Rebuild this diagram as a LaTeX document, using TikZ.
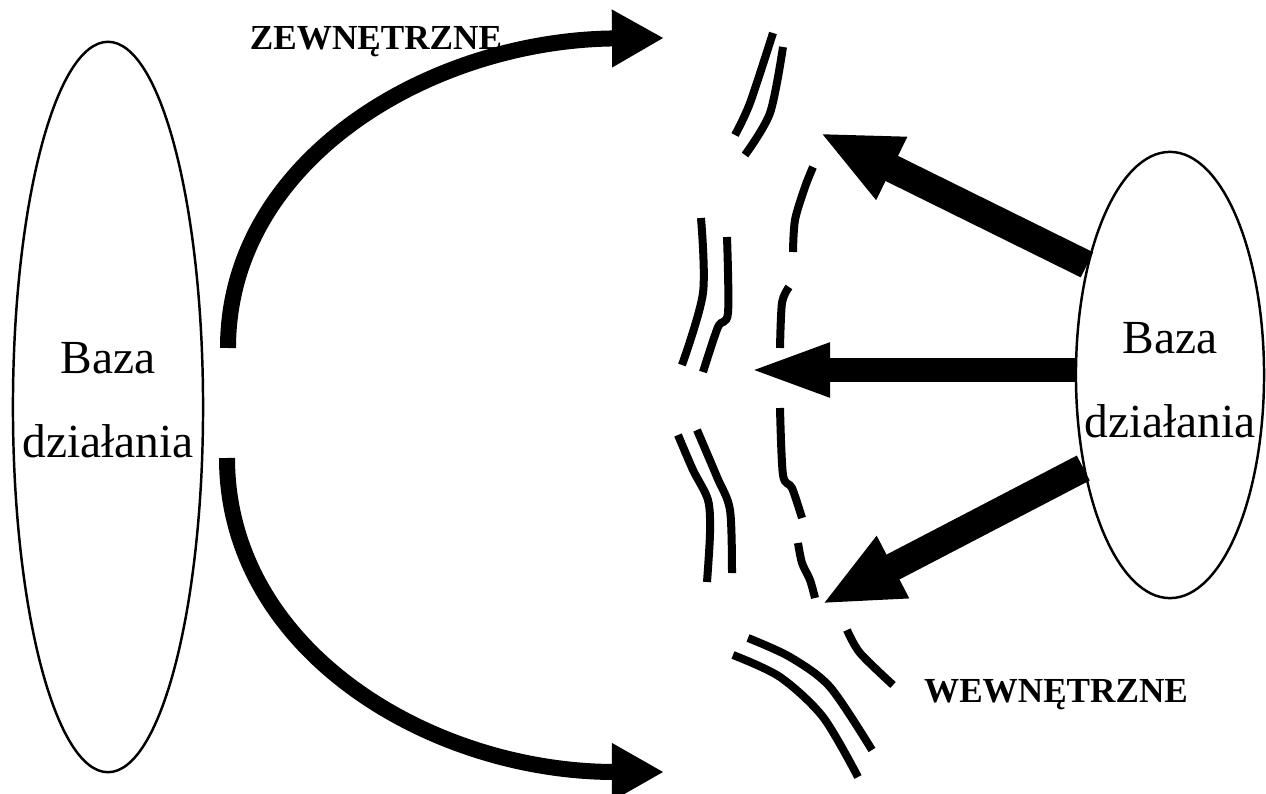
\documentclass[tikz,border=0pt]{standalone}
\usepackage{fontspec}
\setmainfont{Liberation Serif}
\usetikzlibrary{arrows.meta,shapes.geometric}

\tikzset{
  basenode/.style={ellipse, draw, line width=0.7pt, align=center, inner sep=0pt,
    font=\fontsize{13.5}{23.9}\selectfont},
  sidelabel/.style={font=\fontsize{10}{12}\selectfont\bfseries, anchor=base},
  thrust/.style={line width=0.16cm, -{Triangle[length=0.52cm,width=0.54cm]}},
  push/.style={line width=0.28cm, -{Triangle[length=0.8cm,width=0.64cm]}},
  barrier/.style={line width=0.08cm},
}
% #1 extra height on top line, #2 extra depth on bottom line
\newcommand{\basetext}[2]{\rule{0pt}{#1}\makebox[0pt]{Baza}\\
  \makebox[0pt]{działania}\rule[-#2]{0pt}{#2}}

\begin{document}
\begin{tikzpicture}[x=0.01cm, y=-0.01cm]
\useasboundingbox (0,0) rectangle (1266,794);

%% ── Bases ─────────────────────────────────────────────────────────────────────
\node[basenode, minimum width=1.9cm, minimum height=7.3cm] (baseL) at (108,407)
  {\basetext{0pt}{0.14cm}};
\node[basenode, minimum width=1.88cm, minimum height=4.46cm] (baseR) at (1170,375)
  {\basetext{0.41cm}{0pt}};

%% ── Labels ────────────────────────────────────────────────────────────────────
\node[sidelabel] (extLab) at (376,50)  {ZEWNĘTRZNE};
\node[sidelabel] (intLab) at (1056,702) {WEWNĘTRZNE};

%% ── Free ends (hardcoded, px) ─────────────────────────────────────────────────
\coordinate (extStart) at (228,348);
\coordinate (extTip)   at (664,38);
\coordinate (intStart) at (227,458);
\coordinate (intTip)   at (664,772);
\coordinate (tipUp)    at (820,133);
\coordinate (tipMid)   at (747,370);
\coordinate (tipLow)   at (822,604);

%% ── Barrier strokes ───────────────────────────────────────────────────────────
\draw[barrier] plot[smooth] coordinates {(773,33) (750,103) (735,135)};
\draw[barrier] plot[smooth] coordinates {(783,47) (770,113) (745,155)};
\draw[barrier] plot[smooth] coordinates {(813,167) (805,187) (795,220) (793,252)};
\draw[barrier] plot[smooth] coordinates {(789,287) (782,303) (780,348)};
\draw[barrier] plot[smooth] coordinates {(780,408) (783,475) (792,488) (802,518)};
\draw[barrier] plot[smooth] coordinates {(798,543) (802,563) (810,580) (815,598)};
\draw[barrier] plot[smooth] coordinates {(701,218) (703,293) (682,365)};
\draw[barrier] plot[smooth] coordinates {(727,237) (728,313) (718,327) (703,372)};
\draw[barrier] plot[smooth] coordinates {(678,435) (693,470) (708,500) (710,533) (707,582)};
\draw[barrier] plot[smooth] coordinates {(697,430) (717,477) (730,510) (732,573)};
\draw[barrier] plot[smooth] coordinates {(748,638) (790,657) (830,687) (872,750)};
\draw[barrier] plot[smooth] coordinates {(733,655) (780,677) (823,717) (858,777)};
\draw[barrier] plot[smooth] coordinates {(847,630) (860,653) (893,685)};

%% ── Curved arrows from left base ──────────────────────────────────────────────
\draw[thrust] (extStart) .. controls (228,160) and (430,40) .. (extTip);
\draw[thrust] (intStart) .. controls (227,650) and (430,772) .. (intTip);

%% ── Straight arrows from right base ───────────────────────────────────────────
\draw[push] (baseR.127) -- (tipUp);
\draw[push, line width=0.23cm, -{Triangle[length=0.83cm,width=0.48cm]}]
  (tipMid -| baseR.west) -- (tipMid);
\draw[push] (baseR.227) -- (tipLow);

\end{tikzpicture}
\end{document}
